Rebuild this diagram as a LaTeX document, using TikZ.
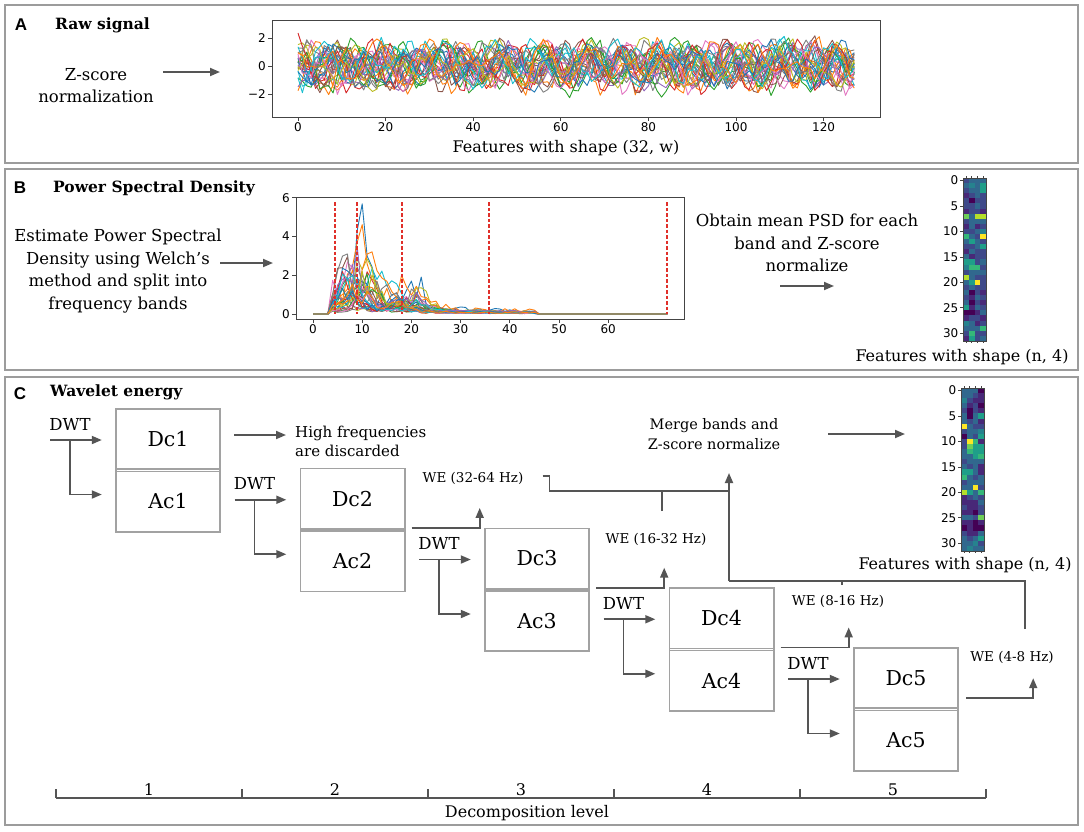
\documentclass[tikz,border=0pt]{standalone}
\usepackage{fontspec}
\setmainfont{DejaVu Serif}
\newfontfamily\mplfont{DejaVu Sans}
\newfontfamily\lblfont{Liberation Sans}
\usetikzlibrary{arrows.meta,calc}
\definecolor{framegray}{HTML}{9C9C9C}
\definecolor{boxgray}{HTML}{A2A2A2}
\definecolor{arrgray}{HTML}{555555}
\definecolor{axgray}{HTML}{444444}
\definecolor{psdred}{HTML}{E0302A}
\definecolor{tab0}{HTML}{1F77B4}
\definecolor{tab1}{HTML}{FF7F0E}
\definecolor{tab2}{HTML}{2CA02C}
\definecolor{tab3}{HTML}{D62728}
\definecolor{tab4}{HTML}{9467BD}
\definecolor{tab5}{HTML}{8C564B}
\definecolor{tab6}{HTML}{E377C2}
\definecolor{tab7}{HTML}{7F7F7F}
\definecolor{tab8}{HTML}{BCBD22}
\definecolor{tab9}{HTML}{17BECF}
\definecolor{vir0}{HTML}{440154}
\definecolor{vir1}{HTML}{482878}
\definecolor{vir2}{HTML}{3E4989}
\definecolor{vir3}{HTML}{31688E}
\definecolor{vir4}{HTML}{26828E}
\definecolor{vir5}{HTML}{1F9E89}
\definecolor{vir6}{HTML}{35B779}
\definecolor{vir7}{HTML}{6ECE58}
\definecolor{vir8}{HTML}{B5DE2B}
\definecolor{vir9}{HTML}{FDE725}
\tikzset{
  panel/.style={draw=framegray, line width=2.2pt},
  lbl/.style={font=\lblfont\bfseries\fontsize{17}{20}\selectfont, inner sep=0pt},
  ttl/.style={font=\bfseries\fontsize{15.5}{18}\selectfont, inner sep=0pt, anchor=west},
  body/.style={font=\fontsize{16.5}{22.7}\selectfont, inner sep=0pt, align=center},
  capt/.style={font=\fontsize{16}{19}\selectfont, inner sep=0pt},
  tk/.style={font=\mplfont\fontsize{12}{14}\selectfont, inner sep=0pt},
  axisline/.style={draw=axgray, line width=0.9pt},
  arr/.style={draw=arrgray, line width=1.8pt, -{Triangle[length=10pt,width=8pt]}},
  ln/.style={draw=arrgray, line width=1.8pt},
  cell/.style={minimum width=104pt, minimum height=60pt, inner sep=0pt, font=\fontsize{20.5}{24}\selectfont},
  boxframe/.style={draw=boxgray, line width=1.6pt},
  dwt/.style={font=\fontsize{16.5}{19}\selectfont, inner sep=0pt},
  we/.style={font=\fontsize{13.5}{16}\selectfont, inner sep=0pt},
  note/.style={font=\fontsize{15}{19}\selectfont, inner sep=0pt, align=left},
  mrg/.style={font=\fontsize{14.5}{20}\selectfont, inner sep=0pt, align=center},
  sig/.style={line width=0.9pt, line join=round},
}
\newcommand{\hmap}[3]{%
  \foreach \hA/\hB/\hC/\hD [count=\hr from 0] in {#3}{%
    \fill[vir\hA] ({#1},{#2+5.09*\hr}) rectangle ++(5.75,5.09);
    \fill[vir\hB] ({#1+5.75},{#2+5.09*\hr}) rectangle ++(5.75,5.09);
    \fill[vir\hC] ({#1+11.5},{#2+5.09*\hr}) rectangle ++(5.75,5.09);
    \fill[vir\hD] ({#1+17.25},{#2+5.09*\hr}) rectangle ++(5.75,5.09);
  }%
  \draw[axisline, line width=0.7pt] (#1,#2) rectangle ++(23,162.9);
  \foreach \v in {0,5,...,30}{%
    \draw[axisline, line width=0.7pt] ({#1},{#2+5.09*\v+2.545}) -- ++(-3,0);
    \node[tk, anchor=east] at ({#1-4.5},{#2+5.09*\v+2.545}) {\v};
  }%
  \foreach \k in {0,1,2,3}{%
    \draw[axisline, line width=0.7pt] ({#1+5.75*\k+2.875},{#2}) -- ++(0,-2.5);
    \draw[axisline, line width=0.7pt] ({#1+5.75*\k+2.875},{#2+162.9}) -- ++(0,2.5);
  }%
}
\begin{document}
\begin{tikzpicture}[x=1pt,y=-1pt]
\useasboundingbox (0,0) rectangle (1084,831);
\fill[white] (0,0) rectangle (1084,831);
\pgfmathsetseed{11}

% ---------- panels ----------
\draw[panel] (5,5) rectangle (1078,163);
\draw[panel] (5,169) rectangle (1078,370);
\draw[panel] (5,377) rectangle (1078,825);

% ---------- Panel A ----------
\node[lbl] (labA) at (21,25) {A};
\node[ttl] (ttlA) at (55,25) {Raw signal};
\node[body] (zs) at (96,85.5) {Z-score\\normalization};
\coordinate (aS) at (163,72);
\coordinate (aE) at (220,72);
\draw[arr] (aS) -- (aE);

\begin{scope}
\clip (272,20) rectangle (880,117);
\foreach \i in {0,...,31}{
  \pgfmathsetmacro{\fa}{0.5+0.4*rnd}
  \pgfmathsetmacro{\fb}{0.15+0.35*rnd}
  \pgfmathsetmacro{\pa}{360*rnd}
  \pgfmathsetmacro{\pb}{360*rnd}
  \pgfmathsetmacro{\am}{0.7+0.6*rnd}
  \pgfmathsetmacro{\ofs}{0.5*(rnd-0.5)}
  \pgfmathtruncatemacro{\ci}{mod(\i,10)}
  \draw[sig, tab\ci] plot[domain=0:127, samples=128, variable=\t]
    ({298+4.38*\t},{66-14*(\ofs+\am*sin(57.3*\fa*\t+\pa)+0.6*sin(57.3*\fb*\t+\pb)+0.9*(rnd-0.5))});
}
\end{scope}
\draw[axisline] (272,20) rectangle (880,117);
\foreach \v/\l in {2/2,0/0,-2/{−2}}{
  \draw[axisline] (272,{66-14*\v}) -- (268,{66-14*\v});
  \node[tk, anchor=east] at (266,{66-14*\v}) {\l};
}
\foreach \v in {0,20,...,120}{
  \draw[axisline] ({298+4.38*\v},117) -- ({298+4.38*\v},121);
  \node[tk] at ({298+4.38*\v},127) {\v};
}
\node[capt] (capA) at (566,148) {Features with shape (32, w)};

% ---------- Panel B ----------
\node[lbl] (labB) at (20,188) {B};
\node[ttl] (ttlB) at (53,188) {Power Spectral Density};
\node[body] (est) at (118,271) {Estimate Power Spectral\\Density using Welch’s\\method and split into\\frequency bands};
\coordinate (bS) at (220,263);
\coordinate (bE) at (273,263);
\draw[arr] (bS) -- (bE);

\begin{scope}
\clip (296,197) rectangle (684,319);
\foreach \i in {0,...,31}{
  \pgfmathsetmacro{\gn}{(\i<2)*1.3+0.5+1.0*rnd}
  \pgfmathsetmacro{\rr}{5+8*rnd}
  \pgfmathsetmacro{\pk}{(\i<2)*(10-\rr)+\rr}
  \pgfmathsetmacro{\pq}{15+8*rnd}
  \pgfmathtruncatemacro{\ci}{mod(\i,10)}
  \draw[sig, tab\ci] plot[domain=0:72, samples=73, variable=\t]
    ({313+4.92*\t},{314-19.35*((\t>3.5)*(\t<45.5)*\gn*(0.3+0.7*rnd)*(2.7/(1+((\t-\pk)/2.2)^2)+0.9/(1+((\t-\pq)/2)^2)+0.1))});
}
\end{scope}
\foreach \x in {335,357,402,489,667}{
  \draw[psdred, line width=1.1pt, dash pattern=on 3.5pt off 2pt] (\x,202) -- (\x,314);
}
\draw[axisline] (296,197) rectangle (684,319);
\foreach \v in {0,2,4,6}{
  \draw[axisline] (296,{314-19.35*\v}) -- (292,{314-19.35*\v});
  \node[tk, anchor=east] at (290,{314-19.35*\v}) {\v};
}
\foreach \v in {0,10,...,60}{
  \draw[axisline] ({313+4.92*\v},319) -- ({313+4.92*\v},323);
  \node[tk] at ({313+4.92*\v},329) {\v};
}
\node[body] (obt) at (807,243) {Obtain mean PSD for each\\band and Z-score\\normalize};
\coordinate (oS) at (780,286);
\coordinate (oE) at (834,286);
\draw[arr] (oS) -- (oE);
\hmap{963}{178}{2/3/3/3, 3/4/3/5, 2/3/3/5, 1/2/3/2, 2/0/2/2, 2/2/3/2, 1/2/2/1, 7/3/8/8, 2/3/3/3, 1/3/1/2, 2/2/3/4, 6/3/2/9, 3/5/3/2, 2/2/3/5, 1/3/2/2, 3/1/2/2, 5/5/2/3, 4/6/6/2, 2/3/3/3, 8/3/2/2, 3/5/9/2, 2/3/2/2, 3/0/2/1, 2/1/3/2, 3/0/2/1, 5/1/3/2, 0/0/1/3, 1/2/2/1, 4/3/1/2, 3/3/3/6, 2/6/2/2, 1/5/2/3}
\node[capt] (capB) at (962,357) {Features with shape (n, 4)};

% ---------- Panel C ----------
\node[lbl] (labC) at (20,394) {C};
\node[ttl] (ttlC) at (50,392) {Wavelet energy};

\foreach \i in {1,...,5}{
  \pgfmathsetmacro{\bxL}{116+184.5*(\i-1)}
  \pgfmathsetmacro{\bxT}{409+59.75*(\i-1)}
  \node[cell] (dc\i) at ({\bxL+52},{\bxT+30}) {Dc\i};
  \node[cell] (ac\i) at ({\bxL+52},{\bxT+92.5}) {Ac\i};
  \draw[boxframe] (dc\i.north west) rectangle (ac\i.south east);
  \draw[boxframe] (dc\i.south west) -- (dc\i.south east);
  \draw[boxframe] (ac\i.north west) -- (ac\i.north east);
  \node[dwt] (dwt\i) at ({\bxL-46},{\bxT+15}) {DWT};
  \coordinate (ds\i) at ({\bxL-66},{\bxT+31});
  \coordinate (db\i) at ({\bxL-46},{\bxT+31});
  \draw[arr] (ds\i) -- ([xshift=-14pt,yshift=-1pt]dc\i.west);
  \draw[arr] (db\i) |- ([xshift=-14pt,yshift=7pt]ac\i.west);
}

% detail outputs
\node[note, anchor=west] (hf) at (295,441.5) {High frequencies\\are discarded};
\draw[arr] ([xshift=14pt,yshift=4pt]dc1.east) -- ([xshift=-9pt,yshift=6.5pt]hf.west);
\node[we] (we32) at (473,478) {WE (32-64 Hz)};
\node[we] (we16) at (656,539) {WE (16-32 Hz)};
\node[we] (we8) at (838,601) {WE (8-16 Hz)};
\node[we] (we4) at (1012,657) {WE (4-8 Hz)};
\foreach \i in {2,3,4}{
  \draw[arr] ([xshift=7pt,yshift=1pt]dc\i.south east) -- ++(68,0) -- ++(0,-20);
}
\draw[arr] ([xshift=8pt,yshift=10pt]dc5.south east) -- ++(67,0) -- ++(0,-20);

% merge connectors
\node[mrg] (merge) at (714,434) {Merge bands and\\Z-score normalize};
\coordinate (j1) at (729,491);
\coordinate (j2) at (729,581);
\coordinate (j3) at (1025,581);
\coordinate (mtip) at (729,473);
\draw[ln] ($(we32.east)+(19,-2)$) -- ++(7,0) |- (j1);
\coordinate (s16) at (662,511);
\draw[ln] (s16) -- (s16 |- j1);
\coordinate (s8) at (842,585);
\draw[ln] (s8) -- (s8 |- j2);
\coordinate (s4) at (1025,629);
\draw[ln] (s4) -- (j3) -- (j2);
\draw[arr] (j2) -- (mtip);
\coordinate (mS) at (828,434);
\coordinate (mE) at (905,434);
\draw[arr] (mS) -- (mE);
\hmap{961}{388}{3/3/3/0, 3/3/2/1, 4/2/1/1, 3/1/2/0, 2/0/2/1, 3/0/3/5, 3/2/3/1, 9/3/2/2, 2/3/3/4, 0/3/2/5, 2/9/6/1, 2/7/5/5, 3/6/5/5, 3/3/5/6, 2/3/3/3, 3/2/3/1, 5/5/3/1, 6/3/2/3, 2/3/3/3, 3/3/9/2, 8/5/3/6, 1/2/3/2, 1/1/1/3, 2/1/1/2, 1/1/0/2, 3/3/2/7, 1/1/0/1, 0/1/0/0, 2/1/1/3, 3/2/3/5, 3/3/4/2, 3/4/3/3}
\node[capt] (capC) at (965,565) {Features with shape (n, 4)};

% decomposition axis
\coordinate (ax0) at (56,798);
\coordinate (ax1) at (986,798);
\draw[ln] (ax0) -- (ax1);
\foreach \k in {0,...,5}{
  \draw[ln] ({56+186*\k},798) -- ({56+186*\k},789);
}
\foreach \k in {1,...,5}{
  \node[capt, anchor=base] at ({56+186*\k-93},795) {\k};
}
\node[capt] (declev) at (527,813) {Decomposition level};
\end{tikzpicture}
\end{document}
